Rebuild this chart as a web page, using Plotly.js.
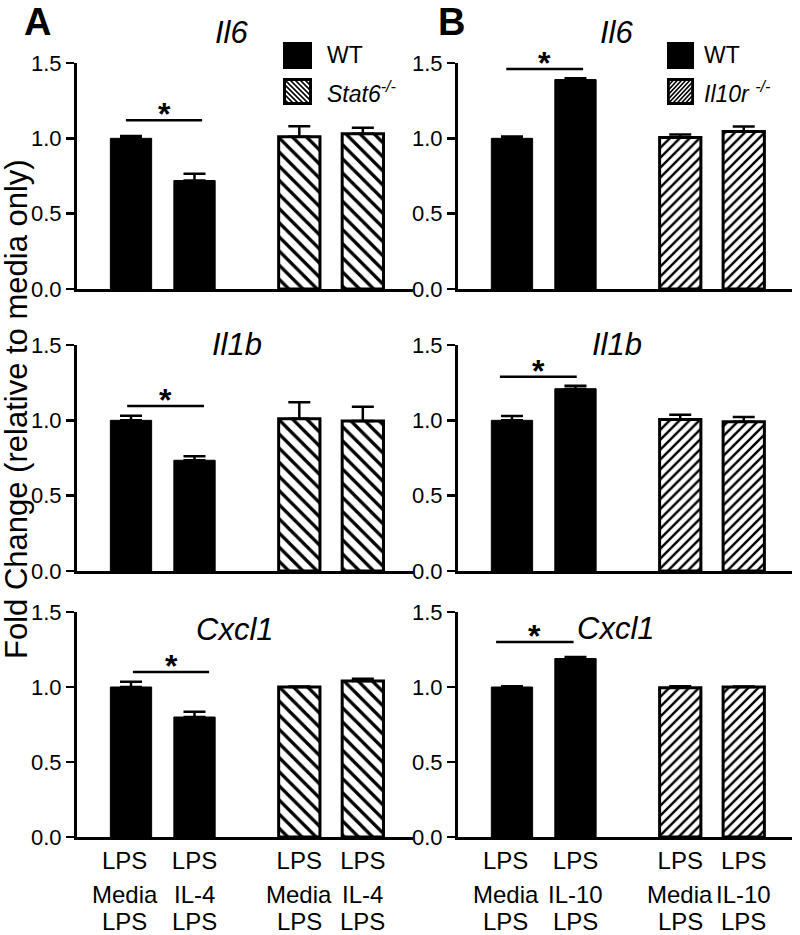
<!DOCTYPE html>
<html><head><meta charset="utf-8">
<script src="https://cdn.plot.ly/plotly-3.0.1.min.js"></script>
<style>html,body{margin:0;padding:0;background:#fff}#chart{width:800px;height:935px}</style>
</head><body><div id="chart"></div>
<script>
// ---------- DATA ----------
const genes = ['Il6', 'Il1b', 'Cxcl1'];
const groupsA = ['WT', 'Stat6-/-'];
const groupsB = ['WT', 'Il10r -/-'];
const tickLine1A = ['LPS', 'LPS', 'LPS', 'LPS'];
const tickLine2A = ['Media', 'IL-4', 'Media', 'IL-4'];
const tickLine3A = ['LPS', 'LPS', 'LPS', 'LPS'];
const tickLine1B = ['LPS', 'LPS', 'LPS', 'LPS'];
const tickLine2B = ['Media', 'IL-10', 'Media', 'IL-10'];
const tickLine3B = ['LPS', 'LPS', 'LPS', 'LPS'];
const yTickVals = [0, 0.5, 1.0, 1.5];
const yTickText = ['0.0', '0.5', '1.0', '1.5'];

// mean fold change, order: WT media, WT treated, KO media, KO treated
const aIl6Mean = [1.00, 0.72, 1.01, 1.03];
const aIl6Sem = [0.015, 0.045, 0.07, 0.04];
const aIl1bMean = [1.00, 0.735, 1.01, 0.995];
const aIl1bSem = [0.03, 0.026, 0.11, 0.095];
const aCxcl1Mean = [1.00, 0.80, 1.00, 1.04];
const aCxcl1Sem = [0.035, 0.035, 0.003, 0.015];
const bIl6Mean = [1.00, 1.39, 1.005, 1.045];
const bIl6Sem = [0.012, 0.008, 0.02, 0.033];
const bIl1bMean = [1.00, 1.21, 1.005, 0.99];
const bIl1bSem = [0.028, 0.02, 0.032, 0.032];
const bCxcl1Mean = [1.00, 1.19, 0.995, 1.00];
const bCxcl1Sem = [0.005, 0.01, 0.01, 0.003];

// significance bars: [level, from, to]
const sigAIl6 = [1.12, -0.08, 1.12];
const sigAIl1b = [1.095, -0.06, 1.15];
const sigACxcl1 = [1.10, 0.03, 1.23];
const sigBIl6 = [1.46, -0.09, 1.12];
const sigBIl1b = [1.29, -0.19, 1.02];
const sigBCxcl1 = [1.30, -0.25, 0.97];

// ---------- LAYOUT CONSTANTS ----------
const FONT = 'Liberation Sans, Arial, Helvetica, sans-serif';
const xPos = [0, 1, 2.65, 3.65];
const labelPos = [-0.1, 1, 2.65, 3.65];
const W = 800, H = 935;
const px = v => v / W, py = v => 1 - v / H;
const colDom = [[px(77), px(413)], [px(458), px(792)]];
const colRange = [[-0.85, 4.44], [-0.85, 4.41]];
const rowDom = [[py(289), py(63)], [py(571), py(345)], [py(837), py(612)]];
const patterns = [
  {shape: '\\', size: 10, solidity: 0.33, fgcolor: 'black', bgcolor: 'white'},
  {shape: '/', size: 7, solidity: 0.35, fgcolor: 'black', bgcolor: 'white'}
];
const XFS = 24;

const panels = [
  {mean: aIl6Mean, sem: aIl6Sem, sig: sigAIl6, gene: genes[0], col: 0, row: 0, title: [232, 33]},
  {mean: bIl6Mean, sem: bIl6Sem, sig: sigBIl6, gene: genes[0], col: 1, row: 0, title: [617, 33]},
  {mean: aIl1bMean, sem: aIl1bSem, sig: sigAIl1b, gene: genes[1], col: 0, row: 1, title: [237, 344]},
  {mean: bIl1bMean, sem: bIl1bSem, sig: sigBIl1b, gene: genes[1], col: 1, row: 1, title: [617, 344]},
  {mean: aCxcl1Mean, sem: aCxcl1Sem, sig: sigACxcl1, gene: genes[2], col: 0, row: 2, title: [235, 629]},
  {mean: bCxcl1Mean, sem: bCxcl1Sem, sig: sigBCxcl1, gene: genes[2], col: 1, row: 2, title: [616, 628]}
];

const traces = [];
const layout = {
  width: W, height: H, margin: {l: 0, r: 0, t: 0, b: 0},
  paper_bgcolor: 'white', plot_bgcolor: 'rgba(0,0,0,0)',
  showlegend: false, font: {family: FONT, color: 'black'},
  shapes: [], annotations: [], images: []
};

panels.forEach((p, i) => {
  const id = i === 0 ? '' : String(i + 1);
  const xa = 'x' + id, ya = 'y' + id;
  const groups = p.col === 0 ? groupsA : groupsB;
  // WT bars
  traces.push({
    type: 'bar', x: xPos.slice(0, 2), y: p.mean.slice(0, 2), xaxis: xa, yaxis: ya,
    name: groups[0], width: 0.65,
    marker: {color: 'black', line: {color: 'black', width: 1}},
    error_y: {type: 'data', symmetric: false, array: p.sem.slice(0, 2), arrayminus: [0, 0],
              color: 'black', thickness: 2.5, width: 11},
    hoverinfo: 'none', cliponaxis: false
  });
  // KO bars
  traces.push({
    type: 'bar', x: xPos.slice(2, 4), y: p.mean.slice(2, 4), xaxis: xa, yaxis: ya,
    name: groups[1], width: 0.65,
    marker: {color: 'white', pattern: patterns[p.col], line: {color: 'black', width: 3}},
    error_y: {type: 'data', symmetric: false, array: p.sem.slice(2, 4), arrayminus: [0, 0],
              color: 'black', thickness: 2.5, width: 11},
    hoverinfo: 'none', cliponaxis: false
  });
  const bottom = p.row === 2;
  layout['xaxis' + id] = {
    domain: colDom[p.col], range: colRange[p.col], anchor: ya,
    showline: true, linewidth: 3, linecolor: 'black', showgrid: false, zeroline: false,
    ticks: '', tickvals: labelPos, ticktext: p.col === 0 ? tickLine1A : tickLine1B,
    showticklabels: bottom, tickangle: 0, tickfont: {size: XFS, family: FONT, color: 'black'},
    fixedrange: true
  };
  layout['yaxis' + id] = {
    domain: rowDom[p.row], range: [0, 1.5], anchor: xa,
    showline: true, linewidth: 3, linecolor: 'black', showgrid: false, zeroline: false,
    ticks: 'outside', ticklen: 8, tickwidth: 2.5, tickcolor: 'black',
    tickvals: yTickVals, ticktext: yTickText,
    tickfont: {size: 22, family: FONT, color: 'black'}, fixedrange: true
  };
  // significance line and star
  layout.shapes.push({type: 'line', xref: xa, yref: ya, x0: p.sig[1], x1: p.sig[2], y0: p.sig[0], y1: p.sig[0],
    line: {color: 'black', width: 2.5}});
  layout.annotations.push({xref: xa, yref: ya, x: (p.sig[1] + p.sig[2]) / 2, y: p.sig[0], text: '*',
    showarrow: false, xanchor: 'center', yanchor: 'bottom', yshift: -14,
    font: {size: 32, family: FONT, color: 'black', weight: 'bold'}});
  // gene title
  layout.annotations.push({xref: 'paper', yref: 'paper', x: px(p.title[0]), y: py(p.title[1]),
    text: '<i>' + p.gene + '</i>', showarrow: false, xanchor: 'center', yanchor: 'middle',
    font: {size: 31, family: FONT, color: 'black'}});
  // second and third lines of the category labels (bottom row)
  if (bottom) {
    const l2 = p.col === 0 ? tickLine2A : tickLine2B;
    const l3 = p.col === 0 ? tickLine3A : tickLine3B;
    labelPos.forEach((xv, k) => {
      layout.annotations.push({xref: xa, yref: 'paper', x: xv, y: py(894), text: l2[k], showarrow: false,
        xanchor: 'center', yanchor: 'middle', borderpad: 0, font: {size: XFS, family: FONT, color: 'black'}});
      layout.annotations.push({xref: xa, yref: 'paper', x: xv, y: py(921), text: l3[k], showarrow: false,
        xanchor: 'center', yanchor: 'middle', borderpad: 0, font: {size: XFS, family: FONT, color: 'black'}});
    });
  }
});

// panel letters
layout.annotations.push({xref: 'paper', yref: 'paper', x: px(37), y: py(22), text: '<b>A</b>', showarrow: false,
  xanchor: 'center', yanchor: 'middle', font: {size: 38, family: FONT, color: 'black'}});
layout.annotations.push({xref: 'paper', yref: 'paper', x: px(452), y: py(22), text: '<b>B</b>', showarrow: false,
  xanchor: 'center', yanchor: 'middle', font: {size: 38, family: FONT, color: 'black'}});

// y-axis title
layout.annotations.push({xref: 'paper', yref: 'paper', x: px(16), y: py(409), textangle: -90,
  text: 'Fold Change (relative to media only)', showarrow: false, xanchor: 'center', yanchor: 'middle',
  font: {size: 31, family: FONT, color: 'black'}});

// legends (swatches + text)
function hatchSwatch(dir, step) {
  let lines = '';
  for (let k = -30; k < 60; k += step) {
    if (dir === 'back') lines += `M${k},0 L${k + 30},30 `;
    else lines += `M${k},30 L${k + 30},0 `;
  }
  const svg = `<svg xmlns='http://www.w3.org/2000/svg' width='29' height='27' viewBox='0 0 29 27'>` +
    `<rect x='0' y='0' width='29' height='27' fill='white'/>` +
    `<path d='${lines}' stroke='black' stroke-width='1.6' fill='none'/>` +
    `<rect x='1.5' y='1.5' width='26' height='24' fill='none' stroke='black' stroke-width='3'/></svg>`;
  return 'data:image/svg+xml;charset=utf-8,' + encodeURIComponent(svg);
}
const legendSpec = [
  {x0: 283, x1: 312, tx: 325, labels: ['WT', '<i>Stat6</i><sup><i>-/-</i></sup>'], dir: 'back', step: 5},
  {x0: 667, x1: 694, tx: 702, labels: ['WT', '<i>Il10r</i> <sup><i>-/-</i></sup>'], dir: 'fwd', step: 4.5}
];
legendSpec.forEach(l => {
  layout.shapes.push({type: 'rect', xref: 'paper', yref: 'paper', x0: px(l.x0), x1: px(l.x1), y0: py(69), y1: py(42),
    fillcolor: 'black', line: {width: 0}});
  layout.images.push({source: hatchSwatch(l.dir, l.step), xref: 'paper', yref: 'paper', x: px(l.x0), y: py(78),
    sizex: px(l.x1) - px(l.x0), sizey: 27 / H, xanchor: 'left', yanchor: 'top', sizing: 'stretch', layer: 'above'});
  layout.annotations.push({xref: 'paper', yref: 'paper', x: px(l.tx), y: py(55.5), text: l.labels[0],
    showarrow: false, xanchor: 'left', yanchor: 'middle', font: {size: 23, family: FONT, color: 'black'}});
  layout.annotations.push({xref: 'paper', yref: 'paper', x: px(l.tx), y: py(91.5), text: l.labels[1],
    showarrow: false, xanchor: 'left', yanchor: 'middle', font: {size: 23, family: FONT, color: 'black'}});
});

Plotly.newPlot('chart', traces, layout, {displayModeBar: false, staticPlot: true});
</script></body></html>
